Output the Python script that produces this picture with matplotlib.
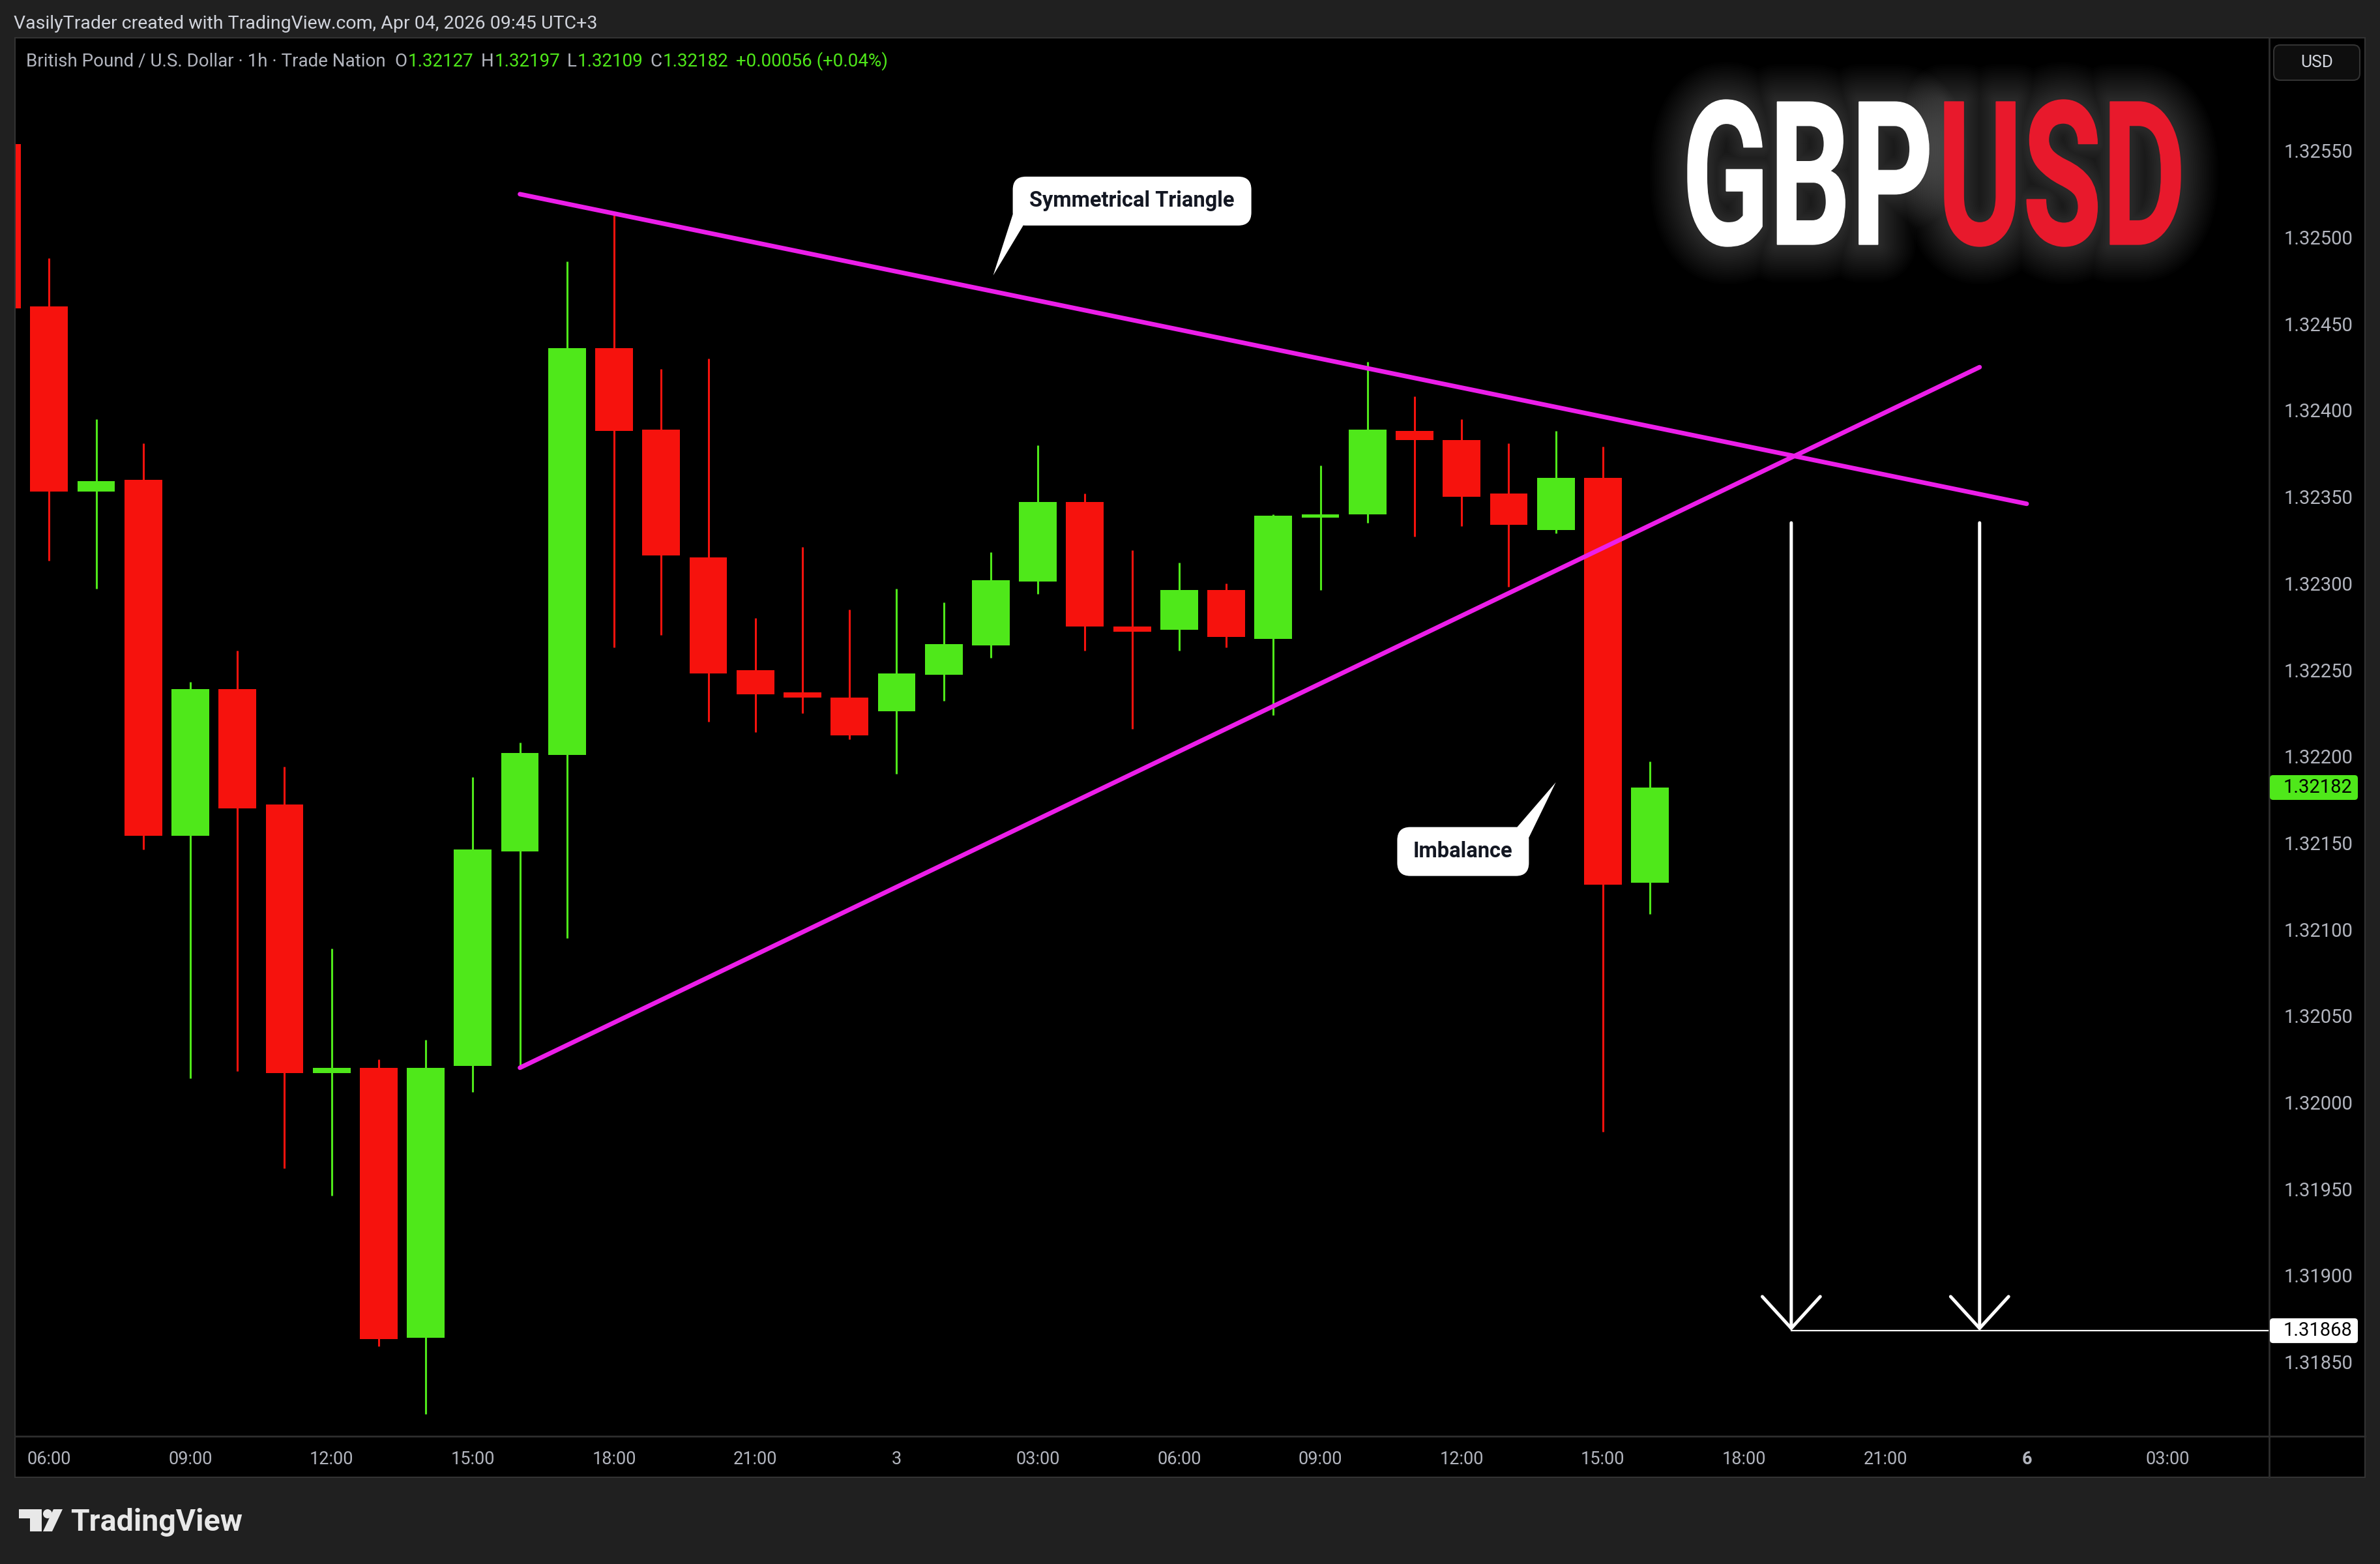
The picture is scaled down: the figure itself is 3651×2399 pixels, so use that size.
import numpy as np
import matplotlib
matplotlib.use("Agg")
import matplotlib.pyplot as plt
import matplotlib.patheffects as pe
from matplotlib.patches import FancyBboxPatch, Polygon, Circle, PathPatch, Rectangle
from matplotlib.lines import Line2D
from matplotlib.textpath import TextPath
from matplotlib.font_manager import FontProperties
from matplotlib.transforms import Affine2D, IdentityTransform

W, H = 3651, 2399

# hourly bars, index 0 = Apr 2 06:00 (index -1 is cut by the left edge)
bar_idx = list(range(-1, 35))
opens = [1.32554, 1.32460, 1.32353, 1.32360, 1.32154, 1.32239, 1.32172, 1.32017, 1.32020,
         1.31864, 1.32021, 1.32145, 1.32201, 1.32436, 1.32389, 1.32315, 1.32250, 1.32237,
         1.32234, 1.32226, 1.32247, 1.32264, 1.32301, 1.32347, 1.32275, 1.32273, 1.32296,
         1.32268, 1.32338, 1.32340, 1.32388, 1.32383, 1.32352, 1.32331, 1.32361, 1.32127]
highs = [1.32575, 1.32488, 1.32395, 1.32381, 1.32243, 1.32261, 1.32194, 1.32089, 1.32025,
         1.32036, 1.32188, 1.32208, 1.32486, 1.32514, 1.32424, 1.32430, 1.32280, 1.32321,
         1.32285, 1.32297, 1.32289, 1.32318, 1.32380, 1.32352, 1.32319, 1.32312, 1.32300,
         1.32340, 1.32368, 1.32428, 1.32408, 1.32395, 1.32381, 1.32388, 1.32379, 1.32197]
lows = [1.32440, 1.32313, 1.32297, 1.32146, 1.32014, 1.32018, 1.31962, 1.31946, 1.31859,
        1.31820, 1.32006, 1.32020, 1.32095, 1.32263, 1.32270, 1.32220, 1.32214, 1.32225,
        1.32210, 1.32190, 1.32232, 1.32257, 1.32294, 1.32261, 1.32216, 1.32261, 1.32263,
        1.32224, 1.32296, 1.32335, 1.32327, 1.32333, 1.32298, 1.32329, 1.31983, 1.32109]
closes = [1.32459, 1.32353, 1.32359, 1.32154, 1.32239, 1.32170, 1.32017, 1.32020, 1.31863,
          1.32020, 1.32146, 1.32202, 1.32436, 1.32388, 1.32316, 1.32248, 1.32236, 1.32234,
          1.32212, 1.32248, 1.32265, 1.32302, 1.32347, 1.32275, 1.32272, 1.32296, 1.32269,
          1.32339, 1.32340, 1.32389, 1.32383, 1.32350, 1.32334, 1.32361, 1.32126, 1.32182]

price_ticks = [1.31850, 1.31900, 1.31950, 1.32000, 1.32050, 1.32100, 1.32150, 1.32200,
               1.32250, 1.32300, 1.32350, 1.32400, 1.32450, 1.32500, 1.32550]
time_ticks = [0, 3, 6, 9, 12, 15, 18, 21, 24, 27, 30, 33, 36, 39, 42, 45]
time_labels = ["06:00", "09:00", "12:00", "15:00", "18:00", "21:00", "3", "03:00",
               "06:00", "09:00", "12:00", "15:00", "18:00", "21:00", "6", "03:00"]

# drawings
tri_upper_x = [10, 42]
tri_upper_p = [1.32525, 1.32346]
tri_lower_x = [10, 41]
tri_lower_p = [1.32020, 1.32425]
target_x = [37, 41]
target_from = 1.32335
target_price = 1.31868

x_range = (-0.71, 47.15)
y_range = (1.31807, 1.32615)

BG = "#202020"
UP = "#4fe81a"
DOWN = "#f6120d"
MAGENTA = "#ec1ee9"
AXIS_TXT = "#b2b5be"
SEP = "#2e2e2e"

plt.rcParams['font.family'] = ['Roboto', 'DejaVu Sans']


def fx(px):
    return px / W


def fy(py):
    return 1 - py / H


fig = plt.figure(figsize=(W / 100, H / 100), dpi=100, facecolor=BG)

# chart panel
fig.add_artist(Rectangle((fx(23), fy(2266)), fx(3628) - fx(23), (2266 - 58) / H,
                         transform=fig.transFigure, fc="black", ec="#333333", lw=1.5, zorder=0))

ax = fig.add_axes([fx(24), fy(2203), (3481 - 24) / W, (2203 - 59) / H])
ax.set_facecolor("black")
for s in ax.spines.values():
    s.set_visible(False)
ax.set_xlim(*x_range)
ax.set_ylim(*y_range)

# candles
x = np.array(bar_idx)
o = np.array(opens)
c = np.array(closes)
hi = np.array(highs)
lo = np.array(lows)
col = np.where(c >= o, UP, DOWN)
ax.vlines(x, lo, hi, colors=col, lw=2.2, zorder=2)
ax.bar(x, np.maximum(np.abs(c - o), 0.000012), bottom=np.minimum(o, c), width=0.8,
       color=col, lw=0, zorder=3)

# triangle
ax.plot(tri_upper_x, tri_upper_p, color=MAGENTA, lw=5, solid_capstyle="round", zorder=4)
ax.plot(tri_lower_x, tri_lower_p, color=MAGENTA, lw=5, solid_capstyle="round", zorder=4)

# target arrows
for tx in target_x:
    ax.annotate("", xy=(tx, target_price), xytext=(tx, target_from),
                arrowprops=dict(arrowstyle="->,head_length=1.75,head_width=1.6", color="white",
                                lw=3.6, shrinkA=0, shrinkB=0, mutation_scale=20,
                                capstyle="round", joinstyle="round"), zorder=5)
ax.plot([target_x[0], x_range[1]], [target_price, target_price], color="white", lw=1.6, zorder=5)

# axes ticks
ax.yaxis.tick_right()
ax.set_yticks(price_ticks)
ax.set_yticklabels([f"{p:.5f}" for p in price_ticks])
ax.tick_params(axis="y", length=0, pad=16, labelsize=21, labelcolor=AXIS_TXT)
ax.set_xticks(time_ticks)
ax.set_xticklabels(time_labels)
ax.tick_params(axis="x", length=0, pad=16, labelsize=19.5, labelcolor=AXIS_TXT)
for t in ax.get_xticklabels():
    if t.get_text() == "6":
        t.set_fontweight("bold")

# separators
fig.add_artist(Line2D([fx(3481), fx(3481)], [fy(58), fy(2266)], transform=fig.transFigure,
                      color=SEP, lw=2))
fig.add_artist(Line2D([fx(23), fx(3628)], [fy(2203), fy(2203)], transform=fig.transFigure,
                      color=SEP, lw=2))

pix = IdentityTransform()


def price_tag(price, fc, tc):
    py = ax.transData.transform((0, price))[1]
    fig.add_artist(FancyBboxPatch((3482, py - 19), 135, 38, boxstyle="round,pad=0,rounding_size=5",
                                  fc=fc, ec="none", transform=pix, zorder=6))
    fig.text(fx(3503), py / H, f"{price:.5f}", color=tc, fontsize=21, va="center", ha="left", zorder=7)


price_tag(closes[-1], UP, "black")
price_tag(target_price, "white", "black")

# currency button
fig.add_artist(FancyBboxPatch((3488, H - 123), 132, 54, boxstyle="round,pad=0,rounding_size=10",
                              fc="#0e0e0e", ec="#333333", lw=1.5, transform=pix, zorder=6))
fig.text(fx(3554), fy(96), "USD", color="#d1d4dc", fontsize=19, ha="center", va="center", zorder=7)


def callout(text, center, tip, w, h, corner):
    cx, cy = ax.transData.transform(center)
    tx, ty = ax.transData.transform(tip)
    L, B = cx - w / 2, cy - h / 2
    R, T = L + w, B + h
    fig.add_artist(FancyBboxPatch((L, B), w, h, boxstyle="round,pad=0,rounding_size=20",
                                  fc="white", ec="none", transform=pix, zorder=6))
    if corner == "bl":
        tail = [(L, B + 17), (tx, ty), (L + 16, B), (L + 16, B + 17)]
    else:
        tail = [(R - 18, T), (tx, ty), (R, T - 16), (R - 18, T - 16)]
    fig.add_artist(Polygon(tail, closed=True, fc="white", ec="none", transform=pix, zorder=6))
    fig.text(cx / W, cy / H, text, color="#131722", fontsize=23.5, fontweight="bold",
             ha="center", va="center", zorder=7)


callout("Symmetrical Triangle", (23.0, 1.32521), (20.05, 1.32478), 366, 75, "bl")
callout("Imbalance", (30.03, 1.32145), (32.0, 1.32185), 202, 75, "tr")

# header
fig.text(fx(21), fy(36), "VasilyTrader created with TradingView.com, Apr 04, 2026 09:45 UTC+3",
         color="#d1d4dc", fontsize=20.5, va="center", ha="left")

chg = closes[-1] - closes[-2]
pieces = [("British Pound / U.S. Dollar · 1h · Trade Nation", AXIS_TXT, 14),
          ("O", AXIS_TXT, 1), (f"{opens[-1]:.5f}", UP, 11),
          ("H", AXIS_TXT, 1), (f"{highs[-1]:.5f}", UP, 11),
          ("L", AXIS_TXT, 1), (f"{lows[-1]:.5f}", UP, 11),
          ("C", AXIS_TXT, 1), (f"{closes[-1]:.5f}", UP, 11),
          (f"{chg:+.5f} ({chg / closes[-2] * 100:+.2f}%)", UP, 0)]
renderer = fig.canvas.get_renderer()
xpos = 40
for txt, cc, gap in pieces:
    t = fig.text(fx(xpos), fy(94), txt, color=cc, fontsize=20, va="center", ha="left")
    xpos += t.get_window_extent(renderer).width + gap

# GBPUSD logo with soft glow
logo_fp = FontProperties(family="Roboto", weight="bold")
glow = [pe.Stroke(linewidth=lw, foreground="white", alpha=0.013, joinstyle="round")
        for lw in range(84, 4, -4)]
for word, color, (x0, y0, x1, y1) in [("GBP", "white", (2589, 153, 2959, 378)),
                                      ("USD", "#e8192c", (2983, 153, 3345, 378))]:
    tp = TextPath((0, 0), word, size=100, prop=logo_fp)
    ext = tp.get_extents()
    tr = Affine2D().translate(-ext.x0, -ext.y0).scale((x1 - x0) / ext.width, (y1 - y0) / ext.height) \
        .translate(x0, H - y1)
    patch = PathPatch(tp, fc=color, ec=color, lw=1.0, transform=tr, zorder=8)
    patch.set_path_effects(glow + [pe.Normal()])
    fig.add_artist(patch)

# TradingView footer logo
fig.add_artist(Polygon([(29, H - 2315), (64, H - 2315), (64, H - 2349), (46, H - 2349),
                        (46, H - 2329), (29, H - 2329)], closed=True, fc="#e8e8e8", ec="none",
                       transform=pix))
fig.add_artist(Circle((73, H - 2322), 7, fc="#e8e8e8", ec="none", transform=pix))
fig.add_artist(Polygon([(82, H - 2315), (96, H - 2315), (80, H - 2349), (66, H - 2349)],
                       closed=True, fc="#e8e8e8", ec="none", transform=pix))
fig.text(fx(108), fy(2348), "TradingView", color="#e8e8e8", fontsize=33.5, fontweight="bold",
         ha="left", va="baseline")

fig.savefig("out.png", dpi=100, facecolor=BG)
